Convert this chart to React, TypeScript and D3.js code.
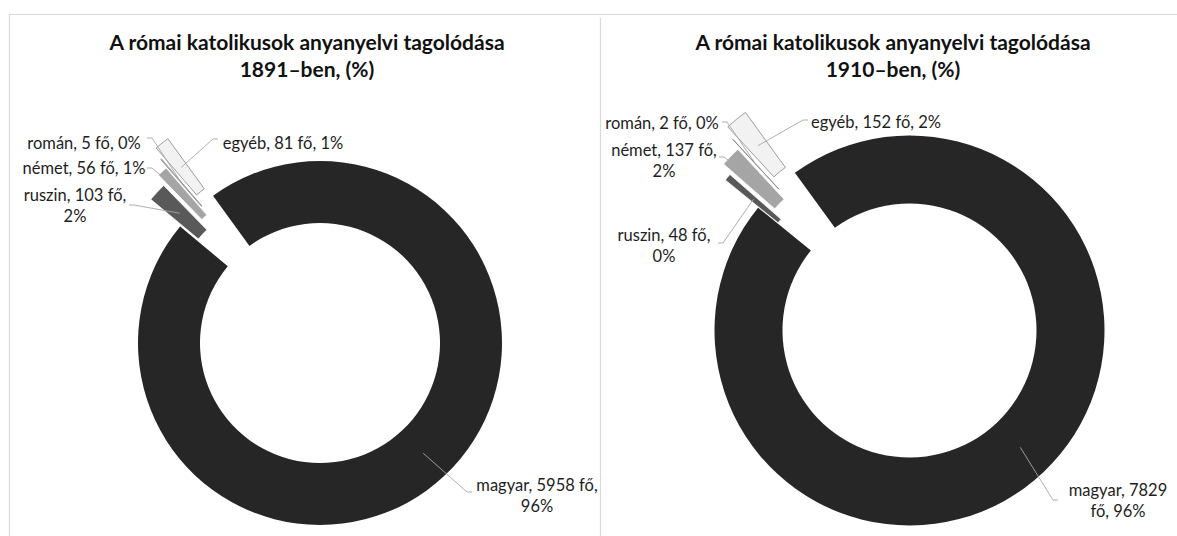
import React from 'react';
import * as d3 from 'd3';

const categories = ['magyar', 'ruszin', 'német', 'román', 'egyéb'];
const counts1891 = [5958, 103, 56, 5, 81];
const counts1910 = [7829, 48, 137, 2, 152];
const pct1891 = [96, 2, 1, 0, 1];
const pct1910 = [96, 0, 2, 0, 2];
const years = ['1891', '1910'];

const W = 1177;
const H = 536;
const colors = ['#262626', '#595959', '#a5a5a5', '#d9d9d9', '#f2f2f2'];
const strokes = ['none', '#ffffff', '#ffffff', '#7f7f7f', '#7f7f7f'];
const explode = [0, 0.22, 0.28, 0.335, 0.4];
const firstAngle = (-36 * Math.PI) / 180;

// per-chart layout: doughnut centre, radii, title centre and label boxes
const layouts = [
  {
    cx: 320, cy: 343, R: 182, r: 120, titleX: 307,
    labels: [
      { x: 537, y: 485, wrap: 3, ax: 472, ay: 492 },
      { x: 75, y: 195, wrap: 3, ax: 129, ay: 205 },
      { x: 84, y: 168, wrap: 0, ax: 147, ay: 168 },
      { x: 84, y: 143, wrap: 0, ax: 147, ay: 138 },
      { x: 283, y: 143, wrap: 0, ax: 218, ay: 139 },
    ],
  },
  {
    cx: 909.5, cy: 330.5, R: 195, r: 127, titleX: 893,
    labels: [
      { x: 1118, y: 490, wrap: 2, ax: 1058, ay: 500 },
      { x: 664, y: 235, wrap: 3, ax: 718, ay: 243 },
      { x: 664, y: 150, wrap: 3, ax: 719, ay: 157 },
      { x: 662, y: 123, wrap: 0, ax: 722, ay: 122 },
      { x: 876, y: 122, wrap: 0, ax: 808, ay: 120 },
    ],
  },
];

const Doughnut = ({ counts, pcts, year, layout }) => {
  const pie = d3.pie<number>().sort(null).startAngle(firstAngle).endAngle(firstAngle + 2 * Math.PI);
  const arcs = pie(counts);
  const arc = d3.arc().innerRadius(layout.r).outerRadius(layout.R);
  const mid = (layout.R + layout.r) / 2;

  return (
    <g>
      <text x={layout.titleX} y={50} textAnchor="middle" fontWeight="bold" fontSize={21} fill="#111">
        A római katolikusok anyanyelvi tagolódása
      </text>
      <text x={layout.titleX} y={77} textAnchor="middle" fontWeight="bold" fontSize={21} fill="#111">
        {year}–ben, (%)
      </text>
      {arcs.map((a, i) => {
        const m = (a.startAngle + a.endAngle) / 2;
        const t = explode[i] * layout.R;
        const ox = layout.cx + Math.sin(m) * t;
        const oy = layout.cy - Math.cos(m) * t;
        return (
          <path
            key={categories[i]}
            transform={`translate(${ox},${oy})`}
            d={arc(a as any) || ''}
            fill={colors[i]}
            stroke={strokes[i]}
            strokeWidth={0.75}
          />
        );
      })}
      {arcs.map((a, i) => {
        const m = (a.startAngle + a.endAngle) / 2;
        const t = explode[i] * layout.R + mid;
        const px = layout.cx + Math.sin(m) * t;
        const py = layout.cy - Math.cos(m) * t;
        const lb = layout.labels[i];
        // short horizontal stub towards the slice, then straight to it
        const stub = lb.ax + (px > lb.ax ? 5 : -5);
        return (
          <polyline
            key={'l' + i}
            points={`${lb.ax},${lb.ay} ${stub},${lb.ay} ${px},${py}`}
            fill="none"
            stroke="#a6a6a6"
            strokeWidth={0.9}
          />
        );
      })}
      {arcs.map((a, i) => {
        const lb = layout.labels[i];
        const words = `${categories[i]}, ${counts[i]} fő, ${pcts[i]}%`.split(' ');
        const lines = lb.wrap ? [words.slice(0, lb.wrap).join(' '), words.slice(lb.wrap).join(' ')] : [words.join(' ')];
        return (
          <text key={'t' + i} x={lb.x} y={lb.y} textAnchor="middle" dominantBaseline="central" fontSize={16.5} fill="#1e1e1e">
            {lines.map((s, k) => (
              <tspan key={k} x={lb.x} dy={k === 0 ? 0 : 21}>{s}</tspan>
            ))}
          </text>
        );
      })}
    </g>
  );
};

export default function App() {
  return (
    <svg
      width={W}
      height={H}
      style={{ position: 'absolute', left: 0, top: 0, background: '#fff' }}
      fontFamily="Lato, 'Noto Sans', sans-serif"
    >
      <line x1={9} x2={W} y1={14.5} y2={14.5} stroke="#d9d9d9" strokeWidth={1.2} />
      <line x1={9.5} x2={9.5} y1={14} y2={H} stroke="#d9d9d9" strokeWidth={1.2} />
      <line x1={600.5} x2={600.5} y1={18} y2={H} stroke="#d9d9d9" strokeWidth={1.2} />
      <Doughnut counts={counts1891} pcts={pct1891} year={years[0]} layout={layouts[0]} />
      <Doughnut counts={counts1910} pcts={pct1910} year={years[1]} layout={layouts[1]} />
    </svg>
  );
}
